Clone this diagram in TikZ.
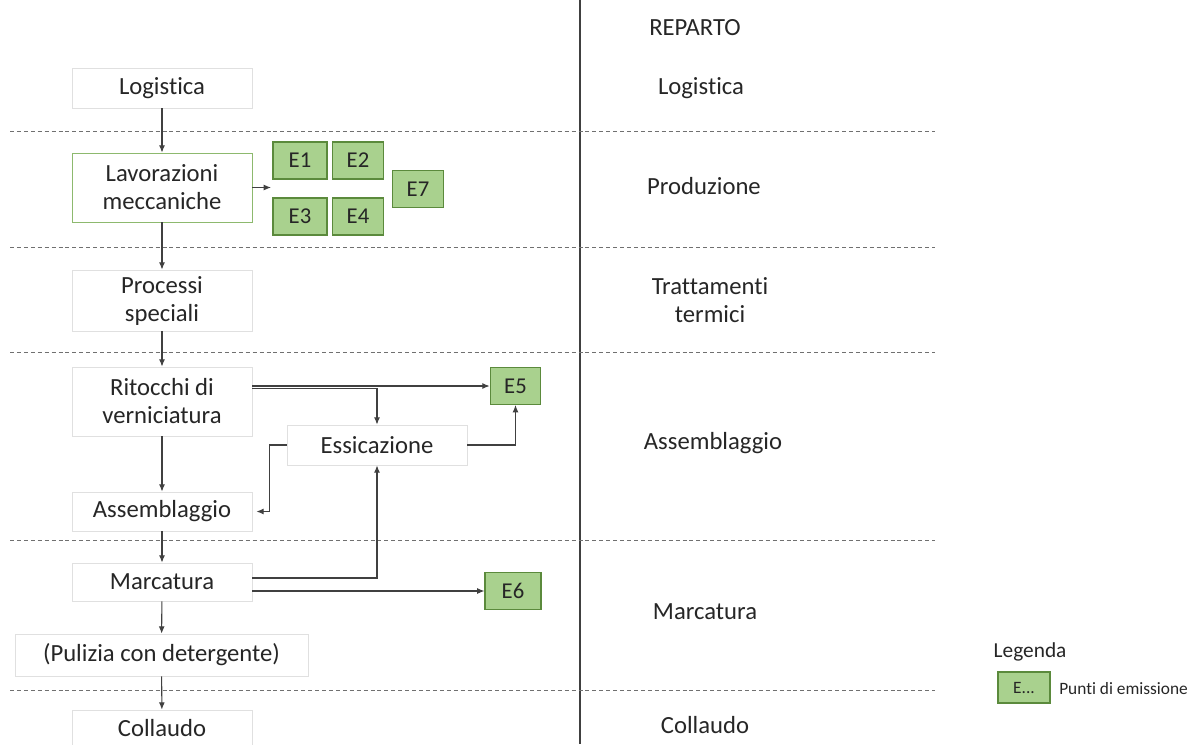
\documentclass[tikz,border=0pt]{standalone}
\usepackage{fontspec}
\setmainfont{Carlito}[Ligatures=NoCommon]
\usetikzlibrary{arrows.meta}
\definecolor{txt}{HTML}{262626}
\definecolor{boxline}{HTML}{E0E0E0}
\definecolor{greenline}{HTML}{8DB96E}
\definecolor{efill}{HTML}{A9D18E}
\definecolor{eline}{HTML}{5B8A3C}
\definecolor{arr}{HTML}{404040}
\definecolor{dash}{HTML}{707070}
\tikzset{
  procbox/.style={draw=boxline, fill=white, line width=0.6pt, text=txt, align=center,
    minimum width=135pt, inner sep=0pt, font=\fontsize{18.5}{21}\selectfont},
  ebox/.style={draw=eline, fill=efill, line width=0.8pt, text=txt, inner sep=0pt,
    minimum width=38pt, minimum height=27.75pt, font=\fontsize{17}{19}\selectfont},
  reparto/.style={text=txt, align=center, font=\fontsize{18.5}{21}\selectfont},
  flow/.style={draw=arr, line width=0.8pt, -{Latex[length=5.5pt,width=4.5pt]}},
  sep/.style={draw=dash, line width=0.7pt, dash pattern=on 3pt off 2.2pt},
}
\begin{document}
\begin{tikzpicture}[x=0.75pt,y=-0.75pt]
\useasboundingbox (0,0) rectangle (1197,744);
% separators
\draw[draw=arr, line width=0.8pt] (580,0) -- (580,744);
\foreach \yy in {131,247,352,540,690} \draw[sep] (10,\yy) -- (935,\yy);
% right column
\node[reparto] (rep) at (695,28) {REPARTO};
\node[reparto] (rlog) at (701,88) {Logistica};
\node[reparto] (rprod) at (704,186) {Produzione};
\node[reparto] (rtt) at (710,300) {Trattamenti\\termici};
\node[reparto] (rass) at (713,443) {Assemblaggio};
\node[reparto] (rmar) at (705,612) {Marcatura};
\node[reparto] (rcol) at (705,725) {Collaudo};
% process boxes
\node[procbox, minimum height=30pt] (log) at (162,88) {Logistica};
\node[procbox, draw=greenline, minimum height=51.75pt] (lav) at (162,187.5) {Lavorazioni\\meccaniche};
\node[procbox, minimum height=45.75pt] (proc) at (162,300.5) {Processi\\speciali};
\node[procbox, minimum height=51.75pt] (rit) at (162,401.5) {Ritocchi di\\verniciatura};
\node[procbox, minimum height=29.25pt] (ass) at (162,511.5) {Assemblaggio};
\node[procbox, minimum height=28.5pt] (mar) at (162,582) {Marcatura};
\node[procbox, minimum width=219.75pt, minimum height=31.5pt] (pul) at (161.5,655) {(Pulizia con detergente)};
\node[procbox, minimum height=27pt] (col) at (162,728) {Collaudo};
\node[procbox, minimum height=30pt] (ess) at (377,445) {Essicazione};
% emission boxes
\node[ebox, minimum width=40.5pt] (e1) at (300,160.5) {E1};
\node[ebox] (e2) at (358,160.5) {E2};
\node[ebox] (e7) at (418,189) {E7};
\node[ebox, minimum width=40.5pt] (e3) at (300,216.5) {E3};
\node[ebox] (e4) at (358,216.5) {E4};
\node[ebox] (e5) at (515.5,386) {E5};
\node[ebox, minimum width=42pt] (e6) at (513,591) {E6};
% legend
\node[text=txt, anchor=west, font=\fontsize{16}{18}\selectfont] (leg) at (989,652) {Legenda};
\node[ebox, minimum width=39pt, minimum height=23.25pt, font=\fontsize{13}{15}\selectfont] (ele) at (1024,687.5) {E...};
\node[text=txt, anchor=west, font=\fontsize{13}{15}\selectfont, inner sep=0pt] (legt) at (1059,689) {Punti di emissione};
% connectors
\coordinate (lavout) at (271,187.5);
\draw[flow] (log) -- (lav);
\draw[flow] (lav.east) -- (lavout);
\draw[flow] (lav) -- (proc);
\draw[flow] (proc) -- (rit);
\draw[flow] (rit.east |- e5.west) -- (e5.west);
\draw[flow] ([yshift=-16.5pt]rit.north east) -| (ess.north);
\draw[flow] (rit) -- (ass);
\draw[flow] (ess.west) -- ++(-17,0) |- ([xshift=3pt]ass.east);
\draw[flow] (ess.east) -| (e5.south);
\draw[flow] (ass) -- (mar);
\draw[flow] ([yshift=3pt]mar.east) -| (ess.south);
\draw[flow] ([yshift=-6.75pt]mar.east) -- (e6.west);
\draw[flow] (mar) -- (pul);
\draw[flow] (pul) -- (col);
\end{tikzpicture}
\end{document}
